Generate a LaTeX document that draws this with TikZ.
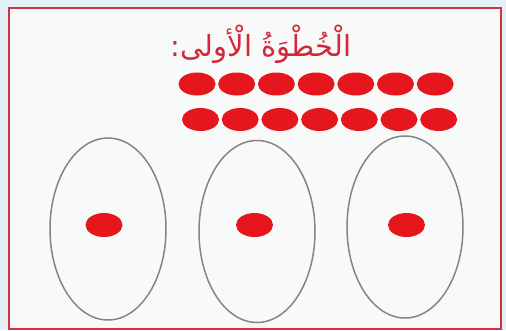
\documentclass[tikz,border=0pt]{standalone}
\usepackage{fontspec}
\newfontfamily\arabicfont[Script=Arabic]{DejaVu Sans}
\TeXXeTstate=1
\definecolor{frameBg}{HTML}{E3F0F5}
\definecolor{panelBg}{HTML}{F8F9F9}
\definecolor{panelRed}{HTML}{D2343E}
\definecolor{beadRed}{HTML}{E5161C}
\definecolor{ovalGray}{HTML}{858585}
\definecolor{titleRed}{HTML}{D4283A}

\begin{document}
\begin{tikzpicture}[x=1pt,y=-1pt]
          \fill[frameBg] (0,0) rectangle (506,330);
          \useasboundingbox (0,0) rectangle (506,330);
          \draw[line width=1.8pt, draw=panelRed, fill=panelBg]
            (9,8) rectangle (501,329);
          \node[text=titleRed, font=\arabicfont\fontsize{29}{33}\selectfont]
            (title) at (261,44) {\beginR الْخُطْوَةُ الْأولى:\endR};
          % two rows of beads
          \foreach \i in {0,...,6} {
            \fill[beadRed] (197+39.7*\i,84) ellipse (18.5pt and 11.5pt);
            \fill[beadRed] (200.5+39.7*\i,119.5) ellipse (18.5pt and 11.5pt);
          }
          % three groups
          \foreach \cx/\cy/\dx in {108/229/104, 257/231.5/254.5, 405/227/406.5} {
            \draw[ovalGray, line width=1.5pt] (\cx,\cy) ellipse (58pt and 91pt);
            \fill[beadRed] (\dx,225) ellipse (18.5pt and 12pt);
          }
        \end{tikzpicture}
\end{document}
